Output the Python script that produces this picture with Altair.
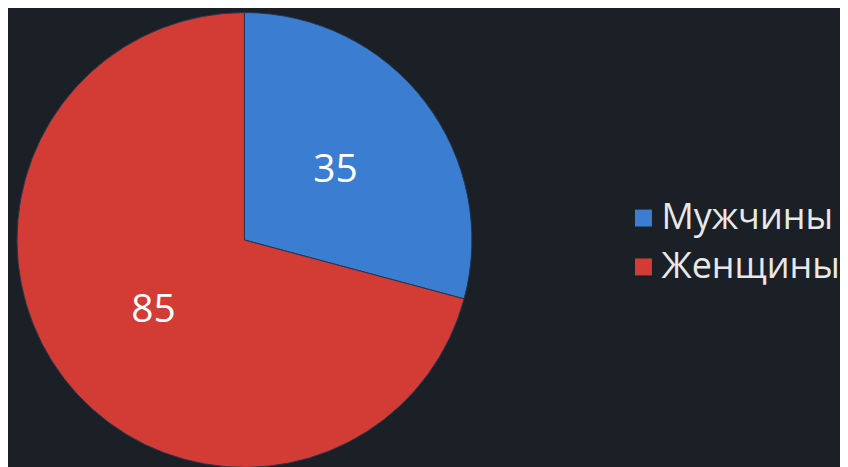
import altair as alt
import pandas as pd

categories = ["Мужчины", "Женщины"]
values = [35, 85]
colors = ["#3b7dd1", "#d33b35"]

df = pd.DataFrame({"category": categories, "value": values, "order": [0, 1]})

base = alt.Chart(df).encode(
    theta=alt.Theta("value:Q", stack=True),
    order=alt.Order("order:Q"),
)

CX, CY = 237, 232

pie = base.mark_arc(outerRadius=228, stroke="#24364f", strokeWidth=1).encode(
    x=alt.value(CX),
    y=alt.value(CY),
    color=alt.Color(
        "category:N",
        scale=alt.Scale(domain=categories, range=colors),
        sort=categories,
        legend=alt.Legend(
            title=None,
            orient="none",
            legendX=619,
            legendY=192,
            symbolType="square",
            symbolSize=289,
            symbolStrokeWidth=0,
            labelFontSize=36,
            labelFont="Open Sans",
            labelColor="#e8e8e8",
            labelLimit=400,
            rowPadding=13,
            labelOffset=0,
        ),
    ),
)

labels = base.mark_text(radius=115, fontSize=39, font="Open Sans", color="white").encode(
    x=alt.value(CX),
    y=alt.value(CY),
    text="value:Q",
)

chart = (
    alt.layer(pie, labels)
    .properties(width=832, height=451, padding=0, background="#1b1f26")
    .configure_view(stroke=None)
)

chart.save("out.html", embed_options={"renderer": "svg", "actions": False})
